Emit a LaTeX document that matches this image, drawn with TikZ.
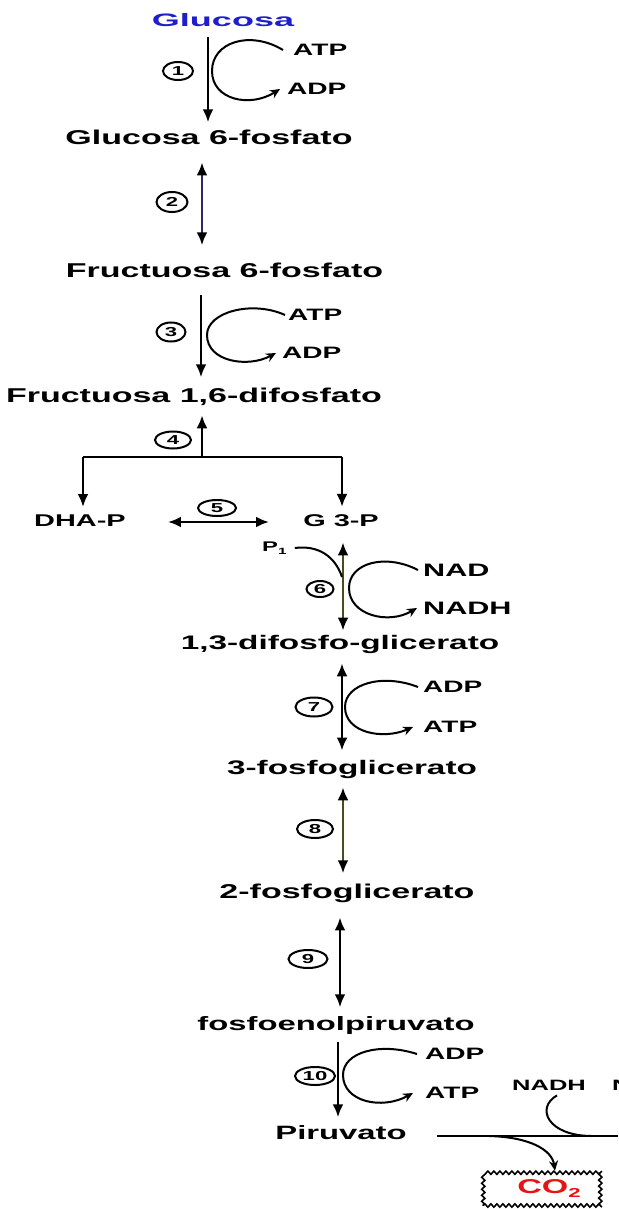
\documentclass[tikz,border=0pt]{standalone}
\usepackage{fontspec}
\usetikzlibrary{arrows.meta,shapes.geometric,decorations.pathmorphing,calc}
\newfontfamily\swf[FakeStretch=1.7]{Liberation Sans}
\newfontfamily\swg[FakeStretch=2.0]{Liberation Sans}
\definecolor{glcblue}{RGB}{30,30,205}
\definecolor{navyln}{RGB}{45,40,100}
\definecolor{oliveln}{RGB}{75,75,30}
\definecolor{co2red}{RGB}{230,20,20}
\tikzset{
 met/.style={anchor=base, inner sep=0pt, font=\swf\bfseries\fontsize{20}{24}\selectfont},
 cofac/.style={anchor=west, inner sep=0pt, font=\swf\bfseries\fontsize{16.5}{20}\selectfont},
 numc/.style={draw, ellipse, line width=2pt, minimum width=34pt, minimum height=19pt, inner sep=0pt, font=\swf\bfseries\fontsize{13}{13}\selectfont},
 mainln/.style={line width=2.6pt},
 fwd/.style={mainln, -{Latex[length=13pt,width=11pt,color=black]}},
 bidir/.style={mainln, {Latex[length=13pt,width=11pt,color=black]}-{Latex[length=13pt,width=11pt,color=black]}},
 cofarc/.style={line width=2pt, -{Stealth[length=10pt,width=9pt]}},
 plainln/.style={line width=2pt},
}
\begin{document}
\begin{tikzpicture}[x=1pt,y=-1pt]
\path[fill=white] (0,0) rectangle (618,1209);
\useasboundingbox (0,0) rectangle (618,1209);
% metabolites
\node[met, font=\swg\bfseries\fontsize{18}{20}\selectfont, text=glcblue] (glc) at (223,26.5) {Glucosa};
\node[met] (g6p) at (209,145) {Glucosa 6-fosfato};
\node[met] (f6p) at (224.5,277) {Fructuosa 6-fosfato};
\node[met] (f16) at (194,402) {Fructuosa 1,6-difosfato};
\node[met, font=\swf\bfseries\fontsize{17}{20}\selectfont] (dha) at (80,526) {DHA-P};
\node[met, font=\swf\bfseries\fontsize{17}{20}\selectfont] (g3p) at (341,526) {G 3-P};
\node[met, font=\swf\bfseries\fontsize{19.6}{22}\selectfont] (dpg) at (340,649) {1,3-difosfo-glicerato};
\node[met, font=\swf\bfseries\fontsize{19.6}{22}\selectfont] (pg3) at (352,774) {3-fosfoglicerato};
\node[met] (pg2) at (347,898) {2-fosfoglicerato};
\node[met, font=\swf\bfseries\fontsize{19.3}{22}\selectfont] (pep) at (336,1030) {fosfoenolpiruvato};
\node[met, font=\swf\bfseries\fontsize{19.3}{22}\selectfont] (pir) at (341,1139) {Piruvato};
% columns
\coordinate (x208) at (208,0);
\coordinate (x202) at (202,0);
\coordinate (x201) at (201,0);
\coordinate (x343) at (343,0);
\coordinate (x342) at (342,0);
\coordinate (x340) at (340,0);
\coordinate (x338) at (338,0);
\coordinate (y522) at (0,522);
% step numbers
\node[numc, minimum width=30pt, minimum height=18pt] (n1) at (178,71) {1};
\node[numc, minimum width=31pt, minimum height=20pt] (n2) at (172,202) {2};
\node[numc, minimum width=29pt, minimum height=19pt] (n3) at (171,332) {3};
\node[numc, minimum width=36pt, minimum height=17pt] (n4) at (173,440) {4};
\node[numc, minimum width=38pt, minimum height=16pt] (n5) at (217,508) {5};
\node[numc, minimum width=27pt, minimum height=16pt] (n6) at (320,589) {6};
\node[numc, minimum width=37pt, minimum height=19pt] (n7) at (314,707) {7};
\node[numc, minimum width=36pt, minimum height=18pt] (n8) at (315,829) {8};
\node[numc, minimum width=39pt, minimum height=18pt] (n9) at (308,959) {9};
\node[numc, minimum width=40pt, minimum height=18pt] (n10) at (315,1076) {10};
% main arrows
\draw[fwd, shorten <=10.5pt, shorten >=8pt] (x208 |- glc.south) -- (x208 |- g6p.north);
\draw[bidir, draw=navyln, shorten <=17pt, shorten >=17pt] (x202 |- g6p.south) -- (x202 |- f6p.north);
\draw[fwd, shorten <=18pt, shorten >=10pt] (x201 |- f6p.south) -- (x201 |- f16.north);
\coordinate (j4) at (202,457);
\coordinate (jl) at (83,457);
\coordinate (jr) at (342,457);
\draw[fwd, shorten >=10pt] (j4) -- (j4 |- f16.south);
\draw[mainln] (jl) -- (jr);
\draw[fwd, shorten >=7pt] (jl) -- (jl |- dha.north);
\draw[fwd, shorten >=7pt] (jr) -- (jr |- g3p.north);
\draw[bidir, shorten <=42pt, shorten >=34pt] (dha.east |- y522) -- (g3p.west |- y522);
\draw[bidir, draw=oliveln, shorten <=16pt, shorten >=4pt] (x343 |- g3p.south) -- (x343 |- dpg.north);
\draw[bidir, shorten <=10pt, shorten >=9pt] (x342 |- dpg.south) -- (x342 |- pg3.north);
\draw[bidir, draw=oliveln, shorten <=9pt, shorten >=10pt] (x343 |- pg3.south) -- (x343 |- pg2.north);
\draw[bidir, shorten <=15pt, shorten >=8.5pt] (x340 |- pg2.south) -- (x340 |- pep.north);
\draw[fwd, shorten <=8pt, shorten >=7.5pt] (x338 |- pep.south) -- (x338 |- pir.north);
% cofactors
\node[cofac] (atp1) at (293,50) {ATP};
\node[cofac] (adp1) at (287,89) {ADP};
\draw[cofarc] ([xshift=-10pt]atp1.west) .. controls (250,30) and (212,42) .. (212,71) .. controls (212,100) and (250,108) .. ([xshift=-7pt]adp1.west);
\node[cofac] (atp3) at (288,315) {ATP};
\node[cofac] (adp3) at (282,353) {ADP};
\draw[cofarc] ([xshift=-3pt]atp3.west) .. controls (252,300) and (207,312) .. (207,335) .. controls (207,362) and (248,368) .. ([xshift=-6pt]adp3.west);
\node[cofac, font=\swf\bfseries\fontsize{18}{20}\selectfont] (nad6) at (423,570) {NAD};
\node[cofac, font=\swf\bfseries\fontsize{18}{20}\selectfont] (nadh6) at (423,608) {NADH};
\draw[cofarc] ([xshift=-5pt]nad6.west) .. controls (385,553) and (349,563) .. (349,588) .. controls (349,615) and (388,625) .. ([xshift=-6pt]nadh6.west);
\node[cofac, font=\swf\bfseries\fontsize{14}{16}\selectfont] (pi6) at (262,548) {P\raisebox{-3pt}{\fontsize{9}{9}\selectfont 1}};
\draw[plainln] ([xshift=8pt]pi6.east) .. controls (318,545) and (335,556) .. (342,577);
\node[cofac] (adp7) at (423,687) {ADP};
\node[cofac] (atp7) at (423,727) {ATP};
\draw[cofarc] ([xshift=-5pt]adp7.west) .. controls (382,673) and (345,684) .. (345,707) .. controls (345,733) and (383,740) .. ([xshift=-10pt]atp7.west);
\node[cofac] (adp10) at (425,1054) {ADP};
\node[cofac] (atp10) at (425,1093) {ATP};
\draw[cofarc] ([xshift=-8pt]adp10.west) .. controls (380,1042) and (343,1052) .. (343,1075) .. controls (343,1102) and (382,1110) .. ([xshift=-12pt]atp10.west);
% bottom branch
\node[cofac, font=\swf\bfseries\fontsize{15}{16}\selectfont] (nadhb) at (512,1085) {NADH};
\node[cofac, font=\swf\bfseries\fontsize{15}{16}\selectfont] (nxt) at (612,1085) {N};
\coordinate (rend) at (618,1136);
\coordinate (lbeg) at ($(pir.east |- rend)+(30,0)$);
\draw[plainln, line width=2.2pt] (lbeg) -- (rend);
\draw[plainln] ([xshift=8pt,yshift=-5pt]nadhb.south) .. controls (535,1108) and (548,1136) .. (592,1136);
\node[draw, line width=1.6pt, decorate, decoration={snake, amplitude=1.6pt, segment length=6pt}, minimum width=118pt, minimum height=34pt, inner sep=0pt, font=\swf\bfseries\fontsize{20}{22}\selectfont, text=co2red] (co2) at (542,1188.5) {\hspace{14pt}CO\raisebox{-4pt}{\fontsize{13}{13}\selectfont 2}};
\draw[cofarc] ($(lbeg)+(52,0)$) .. controls (530,1137) and (552,1150) .. ([xshift=13pt]co2.north);
\end{tikzpicture}
\end{document}
